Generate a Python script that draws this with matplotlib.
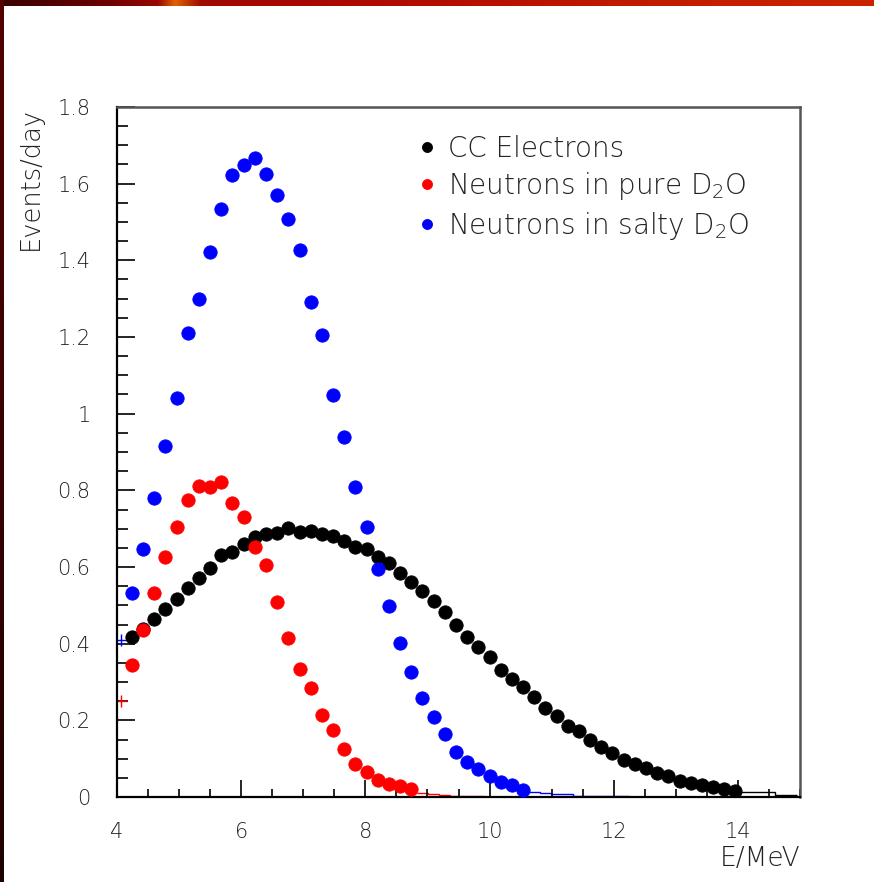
import numpy as np
import matplotlib.pyplot as plt
from matplotlib.ticker import MultipleLocator

# --- data (events/day per 0.18 MeV bin) ---
bin_lo = 4.15        # lower edge of first drawn bin
bin_w = 0.18

cc_electrons = [0.417, 0.437, 0.465, 0.491, 0.516, 0.544, 0.572, 0.597, 0.631, 0.640,
                0.660, 0.679, 0.685, 0.688, 0.701, 0.691, 0.695, 0.687, 0.682, 0.669,
                0.653, 0.646, 0.625, 0.611, 0.585, 0.562, 0.538, 0.512, 0.482, 0.449,
                0.418, 0.391, 0.366, 0.331, 0.309, 0.286, 0.262, 0.231, 0.211, 0.186,
                0.173, 0.150, 0.130, 0.114, 0.097, 0.087, 0.076, 0.063, 0.054, 0.043,
                0.036, 0.031, 0.025, 0.020, 0.016]
cc_tail = [0.013, 0.013, 0.012, 0.005, 0.004]

n_pure = [0.344, 0.436, 0.531, 0.627, 0.705, 0.776, 0.810, 0.808, 0.823, 0.766,
          0.730, 0.653, 0.605, 0.508, 0.414, 0.334, 0.284, 0.214, 0.175, 0.124,
          0.086, 0.066, 0.044, 0.034, 0.029, 0.020]
n_pure_tail = [0.010, 0.008, 0.004, 0.003, 0.003, 0.003]

n_salty = [0.533, 0.646, 0.779, 0.915, 1.041, 1.210, 1.299, 1.423, 1.534, 1.622,
           1.649, 1.668, 1.626, 1.571, 1.508, 1.427, 1.292, 1.204, 1.048, 0.940,
           0.809, 0.704, 0.594, 0.499, 0.401, 0.327, 0.259, 0.208, 0.164, 0.118,
           0.092, 0.072, 0.055, 0.040, 0.031, 0.018]
n_salty_tail = [0.013, 0.010, 0.008, 0.007, 0.003, 0.003, 0.003, 0.003, 0.003]

# first bin (centre 4.06): only the error cross is visible
first_bin_x = 4.06
first_pure = 0.25
first_salty = 0.41

labels = ['CC Electrons', r'Neutrons in pure D$_2$O', r'Neutrons in salty D$_2$O']
colors = ['black', '#ff0000', '#0000ff']

plt.rcParams['font.family'] = 'DejaVu Sans'
plt.rcParams['font.weight'] = 'light'
plt.rcParams['mathtext.fontset'] = 'custom'
plt.rcParams['mathtext.rm'] = 'DejaVu Sans:light'
plt.rcParams['mathtext.it'] = 'DejaVu Sans:light'
txt_col = '#222222'

W, H = 874, 882
fig = plt.figure(figsize=(W / 100, H / 100), dpi=100)

# canvas frame: dark red band on top, dark strip on the left
bg = np.ones((H, W, 3))
xs = np.linspace(0, 1, W)
stops = [0.0, 0.12, 0.18, 0.2, 0.23, 0.35, 0.55, 0.7, 1.0]
r = np.interp(xs, stops, [0.22, 0.42, 0.60, 0.88, 0.62, 0.66, 0.72, 0.75, 0.80])
g = np.interp(xs, stops, [0.0, 0.0, 0.02, 0.38, 0.04, 0.03, 0.06, 0.10, 0.14])
bg[:6, :, 0] = r
bg[:6, :, 1] = g
bg[:6, :, 2] = 0.0
ys = np.linspace(0, 1, H)
bg[:, :4, 0] = np.interp(ys, [0, 1], [0.33, 0.12])[:, None]
bg[:, :4, 1] = 0.0
bg[:, :4, 2] = 0.0
ax_bg = fig.add_axes([0, 0, 1, 1])
ax_bg.imshow(bg, aspect='auto', interpolation='nearest')
ax_bg.axis('off')

ax = fig.add_axes([117 / W, 1 - 797 / H, (800 - 117) / W, (797 - 107) / H])

series = [(cc_electrons, cc_tail), (n_pure, n_pure_tail), (n_salty, n_salty_tail)]
for (vals, tail), col, lab in zip(series, colors, labels):
    n = len(vals)
    centres = bin_lo + bin_w * (np.arange(n) + 0.5)
    # histogram continuation beyond the last marker
    edges = bin_lo + bin_w * (n + np.arange(len(tail) + 1))
    ax.stairs(tail, edges, color=col, lw=1.0, baseline=None)
    ax.plot(centres, vals, ls='none', marker='o', ms=9.6, color=col,
            mec=col, mew=0.6, label=lab, zorder=3)

ax.plot([first_bin_x], [first_pure], ls='none', marker='+', ms=9, mew=1.0, color='#ff0000')
ax.plot([first_bin_x], [first_salty], ls='none', marker='+', ms=9, mew=1.0, color='#0000ff')

ax.set_xlim(4, 15)
ax.set_ylim(0, 1.8)
ax.xaxis.set_major_locator(MultipleLocator(2))
ax.xaxis.set_minor_locator(MultipleLocator(0.5))
ax.yaxis.set_major_locator(MultipleLocator(0.2))
ax.yaxis.set_minor_locator(MultipleLocator(0.05))
ax.yaxis.set_major_formatter(plt.FuncFormatter(lambda v, p: f'{v:g}'))

ax.tick_params(which='both', direction='in', top=False, right=False,
               labelsize=15, labelcolor=txt_col, color='black', width=1.2)
ax.tick_params(axis='y', which='major', length=13, pad=19)
ax.tick_params(axis='y', which='minor', length=8)
ax.tick_params(axis='x', which='major', length=12, pad=18)
ax.tick_params(axis='x', which='minor', length=6)

for side in ['left', 'bottom']:
    ax.spines[side].set_linewidth(1.6)
    ax.spines[side].set_color('black')
for side in ['top', 'right']:
    ax.spines[side].set_linewidth(1.8)
    ax.spines[side].set_color('#555555')

fig.text(30 / W, 1 - 107 / H, 'Events/day', rotation=90, ha='center', va='top',
         fontsize=18.5, color=txt_col)
fig.text(800 / W, 1 - 858 / H, 'E/MeV', ha='right', va='center',
         fontsize=19, color=txt_col)

leg = ax.legend(loc='upper left', bbox_to_anchor=(0.427, 0.976), frameon=False,
                fontsize=20, markerscale=0.75, handlelength=0.5, handletextpad=0.5,
                labelspacing=0.27, borderaxespad=0)
for t in leg.get_texts():
    t.set_color(txt_col)

fig.savefig('out.png', dpi=100)
